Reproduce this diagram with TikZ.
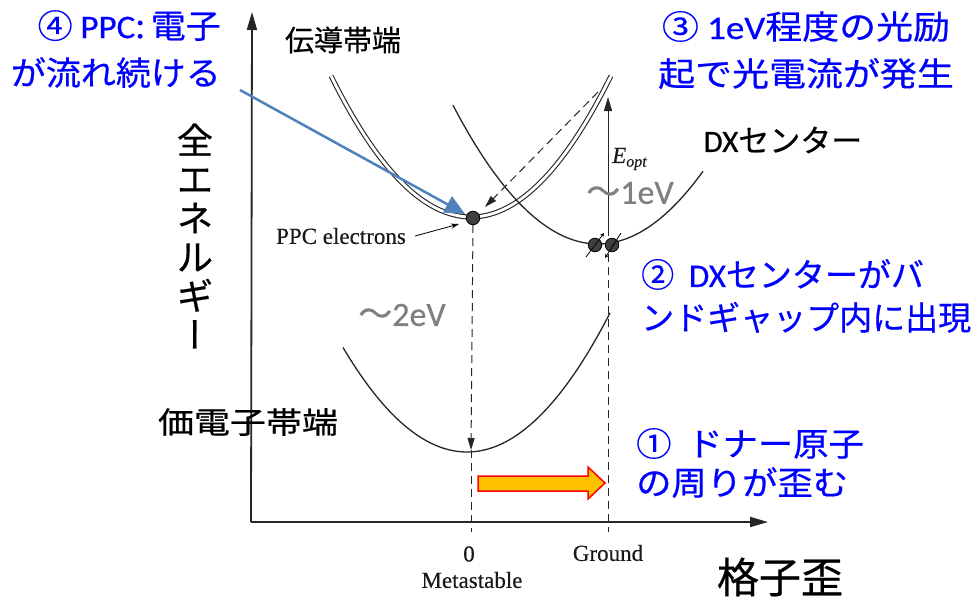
\documentclass[tikz,border=0pt]{standalone}
\usepackage{fontspec}
\setmainfont{Liberation Serif}
\newfontfamily\jp[FakeBold=0.5]{Noto Sans CJK JP}
\newfontfamily\jpv[RawFeature=+vert,FakeBold=0.5]{Noto Sans CJK JP}
\newfontfamily\calib[FakeBold=0.5]{Carlito}
\newfontfamily\bookserif[FakeBold=0.3]{Liberation Serif}
\usetikzlibrary{arrows.meta}
\definecolor{lblblue}{RGB}{0,0,255}
\definecolor{arrblue}{RGB}{79,129,189}
\definecolor{orng}{RGB}{255,192,0}
\definecolor{grytxt}{RGB}{128,128,128}
\begin{document}
\begin{tikzpicture}[x=1pt,y=-1pt,
  curve/.style={line width=1.3pt, black!85},
  band/.style={line width=1.1pt, black!85, double=white, double distance=2.8pt},
  dashln/.style={line width=1pt, black!85, dash pattern=on 8pt off 5pt},
  axis/.style={line width=1.8pt, black!85},
  electron/.style={circle, fill=black!75, draw=black, line width=0.8pt, minimum size=13.5pt, inner sep=0pt},
  bluetxt/.style={text=lblblue, font=\jp\fontsize{33}{47}\selectfont, inner sep=0pt},
  blacktxt/.style={text=black, font=\jp\fontsize{30}{36}\selectfont, inner sep=0pt},
  graytxt/.style={text=grytxt, font=\fontsize{34}{40}\selectfont, inner sep=0pt},
  booktxt/.style={text=black!90, font=\bookserif\fontsize{23}{26}\selectfont, inner sep=0pt},
  spin/.style={line width=0.8pt, black, -{Stealth[length=4pt,width=4pt]}}
]
\useasboundingbox (0,0) rectangle (980,605);
\fill[white] (0,0) rectangle (980,605);

% axes
\coordinate (origin) at (251,522);
\coordinate (ytop) at (252,12);
\coordinate (xend) at (768,522);
\draw[axis, -{Triangle[length=18pt,width=10pt]}] (origin) -- (ytop);
\draw[axis, -{Triangle[length=18pt,width=10pt]}] (origin) -- (xend);

% conduction band (double line)
\draw[band] plot[domain=331:611, samples=80] (\x, {217-0.72*((\x-471)/10)^2});
% DX centre curve
\draw[curve] plot[domain=453:703, samples=80] (\x, {244-0.66*((\x-598)/10)^2});
% valence band
\draw[curve] plot[domain=343:610, samples=80] (\x, {452-0.68*((\x-467)/10)^2});

% electrons
\node[electron] (ppc) at (473,218) {};
\node[electron] (dxa) at (595,245) {};
\node[electron] (dxb) at (612,245) {};
\coordinate (spinaS) at (586,257);
\coordinate (spinaE) at (604,233);
\coordinate (spinbS) at (621,233);
\coordinate (spinbE) at (605,258);
\draw[spin] (spinaS) -- (spinaE);
\draw[spin] (spinbS) -- (spinbE);

% vertical lines
\coordinate (vbmin) at (471,450);
\coordinate (metabot) at (471,532);
\coordinate (gndtop) at (608,254);
\coordinate (gndbot) at (608,532);
\coordinate (eopttip) at (608,97);
\coordinate (eoptbase) at (608,236);
\draw[dashln, -{Triangle[length=12pt,width=7pt]}] (ppc.south) -- (vbmin);
\draw[dashln] (vbmin) -- (metabot);
\draw[dashln] (gndtop) -- (gndbot);
\draw[line width=1pt, black!85, -{Triangle[length=14pt,width=8pt]}] (eoptbase) -- (eopttip);

% dashed relaxation arrow
\coordinate (relaxS) at (598,92);
\coordinate (relaxE) at (485,207);
\draw[dashln, -{Triangle[length=12pt,width=7pt]}] (relaxS) -- (relaxE);

% book labels
\node[booktxt] (ppclbl) at (341,236) {PPC electrons};
\coordinate (ppcarrS) at (415,236);
\coordinate (ppcarrE) at (459,224);
\draw[line width=0.8pt, black, -{Stealth[length=8pt,width=5pt]}] (ppcarrS) -- (ppcarrE);
\node[booktxt, anchor=west, font=\bookserif\itshape\fontsize{23}{26}\selectfont] (eopt) at (612,159) {E\raisebox{-0.35ex}{\fontsize{16}{18}\selectfont opt}};
\node[booktxt] (zero) at (469,554) {0};
\node[booktxt] (meta) at (472,580) {Metastable};
\node[booktxt] (ground) at (608,553) {Ground};

% black Japanese labels
\node[blacktxt, font=\jp\fontsize{29}{34}\selectfont] (cb) at (343,40) {伝導帯端};
\node[blacktxt, xscale=1.2] (vb) at (248,422) {価電子帯端};
\node[blacktxt, font=\fontsize{31}{34}\selectfont] (dx) at (783,140) {{\calib DX}{\jp センター}};
\node[blacktxt, font=\jp\fontsize{36}{38.9}\selectfont, align=center] (etot) at (195,236) {全\\エ\\ネ\\ル\\ギ\\{\jpv ー}};
\node[blacktxt, font=\jp\fontsize{42}{46}\selectfont] (strain) at (780,577) {格子歪};

% gray energy labels
\node[graytxt] (e1) at (630,193) {{\jp ～}{\calib 1eV}};
\node[graytxt] (e2) at (402,315) {{\jp ～}{\calib 2eV}};

% blue annotations
\node[bluetxt, align=right, anchor=east, xscale=1.06] (n4) at (221,49) {④ {\calib PPC}:\,電子\\が流れ続ける};
\node[bluetxt, align=center, xscale=1.12] (n3) at (806,50) {③ {\calib 1eV}程度の光励\\起で光電流が発生};
\node[bluetxt, align=left, anchor=west, font=\jp\fontsize{33}{43}\selectfont] (n2) at (641,296) {②\ \ {\calib DX}センターがバ\\ンドギャップ内に出現};
\node[bluetxt, align=left, anchor=west, xscale=1.07, font=\jp\fontsize{33}{39}\selectfont] (n1) at (636,463) {①\ \ ドナー原子\\の周りが歪む};

% blue pointer arrow
\coordinate (bS) at (240,90);
\coordinate (bE) at (465,214);
\draw[arrblue, line width=2.5pt, -{Triangle[length=20pt,width=18pt]}] (bS) -- (bE);

% orange block arrow
\draw[red, fill=orng, line width=1.5pt, line join=miter]
  (478,476) -- (588,476) -- (588,467) -- (605,483) -- (588,499) -- (588,491) -- (478,491) -- cycle;
\end{tikzpicture}
\end{document}
